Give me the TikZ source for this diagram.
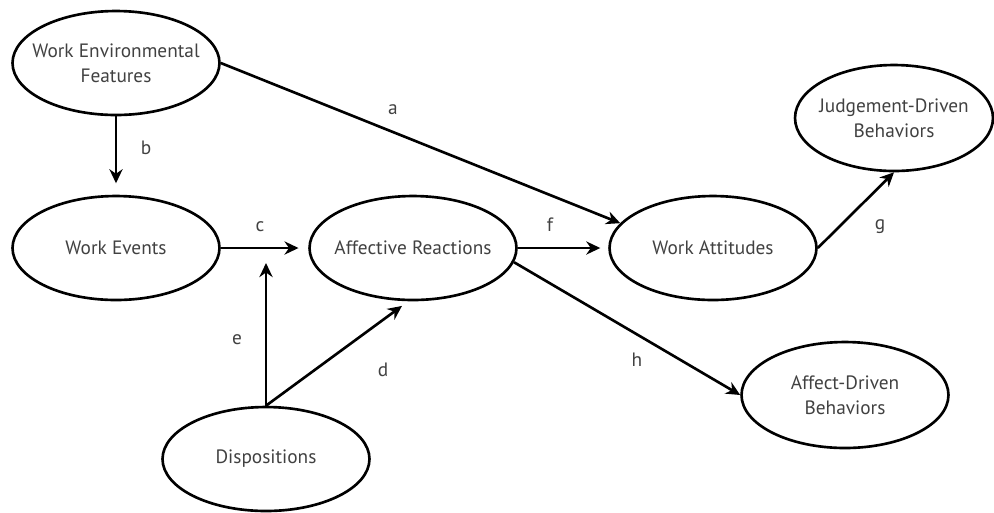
\documentclass[tikz,border=0pt]{standalone}
\usepackage{fontspec}
\setmainfont{PT Sans}
\usepackage{tikz}
\usetikzlibrary{shapes}
\usetikzlibrary{arrows.meta}
\definecolor{textgray}{RGB}{65,65,65}
\tikzset{
	main node/.style={ellipse,draw,line width=1.5pt,minimum width=4.14cm,minimum height=2.08cm,inner xsep=-15pt,inner ysep=0pt,align=center,font=\fontsize{11}{14}\selectfont,text=textgray},
	label node/.style={font=\fontsize{11}{14}\selectfont,text=textgray,inner sep=1pt}
}

\begin{document}
\begin{tikzpicture}[->,>={Stealth[length=8pt,width=7.5pt]},line width=1.5pt,x=0.02cm,y=-0.02cm]
            \useasboundingbox (0,0) rectangle (994,512);
            \node [main node] (1) at (116,63) {Work Environmental\\Features};
            \node [main node] (2) at (116,248) {Work Events};
            \node [main node] (3) at (413,248) {Affective Reactions};
            \node [main node] (4) at (713,248) {Work Attitudes};
            \node [main node,minimum width=3.96cm,minimum height=2.12cm] (5) at (894,118) {Judgement-Driven\\Behaviors};
            \node [main node,minimum height=2.12cm] (6) at (845,395) {Affect-Driven\\Behaviors};
            \node [main node] (7) at (266,459) {Dispositions};
            \coordinate (8) at (266,263);
            % connectors
            \draw (1.east) -- (4.165);
            \draw [shorten >=6.5pt] (1.south) -- (2.north);
            \draw [shorten >=5.5pt] (2.east) -- (3.west);
            \draw [shorten >=4.5pt] (3.east) -- (4.west);
            \draw (4.east) -- (5.south);
            \draw (3.-8) -- (6.west);
            \draw (7.north) -- (8);
            \draw [shorten >=4.5pt] (7.north) -- (3.-95);
            % path labels
            \node [label node] (a) at (393,110) {a};
            \node [label node] (b) at (146,148) {b};
            \node [label node] (c) at (260,227) {c};
            \node [label node] (d) at (383,370) {d};
            \node [label node] (e) at (237,340) {e};
            \node [label node] (f) at (550,225) {f};
            \node [label node] (g) at (880,227) {g};
            \node [label node] (h) at (637,360) {h};
\end{tikzpicture}
\end{document}
